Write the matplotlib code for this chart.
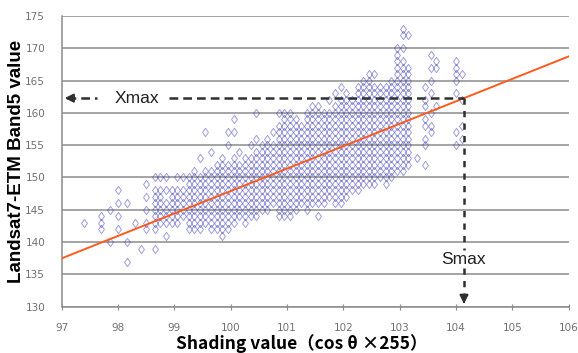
import numpy as np
import matplotlib
matplotlib.use('Agg')
import matplotlib.pyplot as plt

# scatter columns: x position and the y values read in each column
col_x = [97.4, 97.7, 97.85, 98.0, 98.15, 98.3, 98.4, 98.5, 98.65, 98.75,
         98.85, 98.95, 99.05, 99.15, 99.25, 99.35, 99.45, 99.55, 99.65, 99.75,
         99.85, 99.95, 100.05, 100.15, 100.25, 100.35, 100.45, 100.55, 100.65, 100.75,
         100.85, 100.95, 101.05, 101.15, 101.25, 101.35, 101.45, 101.55, 101.65, 101.75,
         101.85, 101.95, 102.05, 102.15, 102.25, 102.35, 102.45, 102.55, 102.65, 102.75,
         102.85, 102.95, 103.05, 103.15, 103.3, 103.45, 103.55, 103.65, 104.0, 104.1]
col_y = [
    [143],
    [142, 143, 144],
    [140, 145],
    [142, 144, 146, 148],
    [137, 140, 146],
    [143],
    [139],
    [142, 143, 145, 147, 149],
    [139, 142, 143, 144, 145, 146, 147, 148, 150],
    [143, 144, 145, 146, 147, 148, 150],
    [141, 143, 144, 145, 146, 148, 150],
    [143, 144, 145, 146, 147, 148],
    [143, 144, 145, 146, 147, 148, 150],
    [144, 145, 146, 147, 148, 150],
    [142, 143, 144, 145, 146, 147, 148, 149, 150],
    [142, 143, 144, 145, 146, 147, 148, 149, 150, 151],
    [142, 143, 144, 145, 146, 147, 148, 149, 150, 153],
    [143, 144, 145, 146, 147, 148, 149, 150, 151, 157],
    [142, 143, 144, 145, 146, 147, 148, 149, 150, 151, 154],
    [142, 143, 144, 145, 146, 147, 148, 149, 150, 151, 152],
    [141, 142, 143, 144, 145, 146, 147, 148, 149, 150, 151, 152, 153],
    [142, 143, 144, 145, 146, 147, 148, 149, 150, 151, 152, 155, 157],
    [143, 144, 145, 146, 147, 148, 149, 150, 151, 152, 153, 157, 159],
    [144, 145, 146, 147, 148, 149, 150, 151, 152, 154],
    [143, 144, 145, 146, 147, 148, 149, 150, 151, 152, 153],
    [144, 145, 146, 147, 148, 149, 150, 151, 152, 153, 155],
    [144, 145, 146, 147, 148, 149, 150, 151, 152, 153, 154, 156, 160],
    [145, 146, 147, 148, 149, 150, 151, 152, 153, 154, 155],
    [145, 146, 147, 148, 149, 150, 151, 152, 153, 154, 155, 156],
    [146, 147, 148, 149, 150, 151, 152, 153, 154, 155, 157],
    [144, 145, 146, 147, 148, 149, 150, 151, 152, 153, 154, 155, 156, 157, 158, 160],
    [144, 145, 146, 147, 148, 149, 150, 151, 152, 153, 154, 155, 156, 157, 158, 159, 160],
    [144, 145, 146, 147, 148, 149, 150, 151, 152, 153, 154, 155, 156, 157, 158, 159, 160],
    [145, 146, 147, 148, 149, 150, 151, 152, 153, 154, 155, 156, 157, 158, 159],
    [146, 147, 148, 149, 150, 151, 152, 153, 154, 155, 156, 157, 158],
    [145, 146, 147, 148, 149, 150, 151, 152, 153, 154, 155, 156, 157, 158, 159, 160],
    [146, 147, 148, 149, 150, 151, 152, 153, 154, 155, 156, 157, 158, 159, 160, 161],
    [144, 146, 147, 148, 149, 150, 151, 152, 153, 154, 155, 156, 157, 158, 159, 160, 161],
    [146, 147, 148, 149, 150, 151, 152, 153, 154, 155, 156, 157, 158, 159, 160],
    [147, 148, 149, 150, 151, 152, 153, 154, 155, 156, 157, 158, 159, 160, 162],
    [146, 147, 148, 149, 150, 151, 152, 153, 154, 155, 156, 157, 158, 159, 160, 161, 163],
    [146, 147, 148, 149, 150, 151, 152, 153, 154, 155, 156, 157, 158, 159, 160, 161, 162, 164],
    [147, 148, 149, 150, 151, 152, 153, 154, 155, 156, 157, 158, 159, 160, 161, 162, 163],
    [148, 149, 150, 151, 152, 153, 154, 155, 156, 157, 158, 159, 160, 161, 162],
    [148, 149, 150, 151, 152, 153, 154, 155, 156, 157, 158, 159, 160, 161, 162, 163, 164],
    [149, 150, 151, 152, 153, 154, 155, 156, 157, 158, 159, 160, 161, 162, 163, 164, 165],
    [149, 150, 151, 152, 153, 154, 155, 156, 157, 158, 159, 160, 161, 162, 163, 164, 165, 166],
    [149, 150, 151, 152, 153, 154, 155, 156, 157, 158, 159, 160, 161, 162, 163, 164, 166],
    [150, 151, 152, 153, 154, 155, 156, 157, 158, 159, 160, 161, 162, 163, 164],
    [149, 150, 151, 152, 153, 154, 155, 156, 157, 158, 159, 160, 161, 162, 163, 164],
    [150, 151, 152, 153, 154, 155, 156, 157, 158, 159, 160, 161, 162, 163, 164, 165],
    [151, 152, 153, 154, 155, 156, 157, 158, 159, 160, 161, 162, 163, 164, 165, 166, 167, 168, 169, 170],
    [151, 152, 153, 154, 155, 156, 157, 158, 159, 160, 161, 162, 163, 164, 165, 166, 167, 168, 170, 172, 173],
    [152, 153, 154, 155, 156, 157, 158, 159, 160, 161, 162, 163, 164, 165, 166, 167, 172],
    [153],
    [152, 155, 156, 158, 159, 161, 162, 164],
    [157, 158, 160, 163, 165, 167, 169],
    [161, 167, 168],
    [155, 157, 163, 165, 166, 167, 168],
    [156, 158, 162, 166],
]

# regression line and the Smax / Xmax read-off
fit_slope = 3.47
fit_intercept = 137.5 - 3.47 * 97
smax = 104.14
xmax = fit_intercept + fit_slope * smax

x_ticks = [97, 98, 99, 100, 101, 102, 103, 104, 105, 106]
y_ticks = [130, 135, 140, 145, 150, 155, 160, 165, 170, 175]

px = np.concatenate([[x] * len(ys) for x, ys in zip(col_x, col_y)])
py = np.concatenate(col_y)

fig = plt.figure(figsize=(5.78, 3.53), dpi=100)
ax = fig.add_axes([0.107, 0.131, 0.877, 0.824])

diamond = [(0, 1), (0.7, 0), (0, -1), (-0.7, 0), (0, 1)]
ax.plot(px, py, ls='none', marker=diamond, ms=6, mfc='none',
        mec='#3c3cb8', mew=0.7, alpha=0.5, zorder=3)

xl = np.array([97, 106])
ax.plot(xl, fit_intercept + fit_slope * xl, color='#ff5a1e', lw=1.4, zorder=4)

dark = '#303030'
# Xmax: dashes broken around the label
ax.plot([97.1, 97.62], [xmax, xmax], ls=(0, (3.5, 2)), color=dark, lw=1.8, zorder=5)
ax.plot([98.9, smax], [xmax, xmax], ls=(0, (3.5, 2)), color=dark, lw=1.8, zorder=5)
# Smax: dashes broken around the label
ax.plot([smax, smax], [xmax, 138.8], ls=(0, (2.5, 2.5)), color=dark, lw=1.8, zorder=5)
ax.plot([smax, smax], [136.0, 130.8], ls=(0, (2.5, 2.5)), color=dark, lw=1.8, zorder=5)
ax.annotate('', xy=(97.0, xmax), xytext=(97.2, xmax),
            arrowprops=dict(arrowstyle='-|>,head_length=0.5,head_width=0.25',
                            color=dark, lw=1.5), zorder=6)
ax.annotate('', xy=(smax, 130.0), xytext=(smax, 131.5),
            arrowprops=dict(arrowstyle='-|>,head_length=0.5,head_width=0.25',
                            color=dark, lw=1.5), zorder=6)
ax.text(98.33, xmax, 'Xmax', ha='center', va='center', fontsize=12.5,
        family='Liberation Sans', color='#202020', zorder=7)
ax.text(smax, 137.3, 'Smax', ha='center', va='center', fontsize=12.5,
        family='Liberation Sans', color='#202020', zorder=7)

ax.set_xlim(97, 106)
ax.set_ylim(130, 175)
ax.set_xticks(x_ticks)
ax.set_yticks(y_ticks)
ax.yaxis.grid(True, color='#8c8c8c', lw=1.1)
ax.set_axisbelow(True)
for s in ['top', 'right']:
    ax.spines[s].set_visible(False)
for s in ['left', 'bottom']:
    ax.spines[s].set_color('#8c8c8c')
    ax.spines[s].set_linewidth(1.1)
ax.tick_params(axis='x', direction='inout', length=5, color='#8c8c8c',
               labelsize=7.5, labelcolor='#707070', pad=9)
ax.tick_params(axis='y', length=0, labelsize=7.5, labelcolor='#707070', pad=12)

ax.set_ylabel('Landsat7-ETM Band5 value', fontsize=13.5, fontweight='bold',
              family='Liberation Sans', labelpad=0)
fig.text(0.522, 0.028, 'Shading value（cos θ ×255）', ha='center', va='center',
         fontsize=12.5, fontweight='bold', family=['Noto Sans CJK JP', 'DejaVu Sans'])

fig.savefig('out.png', dpi=100)
